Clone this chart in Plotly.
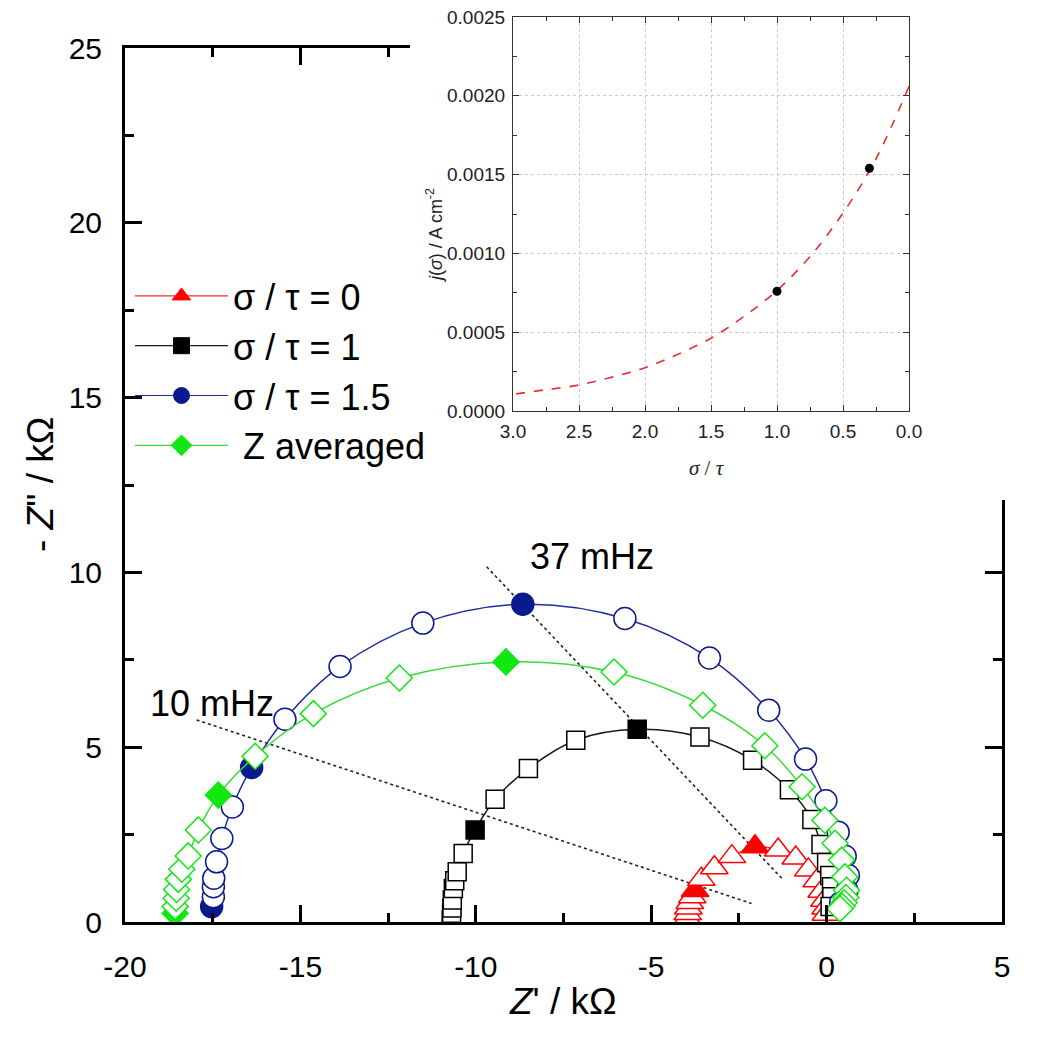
import plotly.graph_objects as go

# ---------------- data ----------------
# sigma/tau = 0 (red triangles)
s0_x = [-3.97, -3.96, -3.94, -3.90, -3.83, -3.75, -3.57, -3.20, -2.70, -2.04, -1.38, -0.88, -0.52, -0.28, -0.14, -0.06, -0.03, -0.02]
s0_y = [0.10, 0.24, 0.40, 0.56, 0.72, 0.90, 1.22, 1.55, 1.87, 2.15, 2.06, 1.83, 1.49, 1.18, 0.88, 0.62, 0.40, 0.22]
s0_filled = [5, 9]

# sigma/tau = 1 (black squares)
s1_x = [-10.70, -10.69, -10.68, -10.67, -10.64, -10.60, -10.53, -10.36, -10.02, -9.45, -8.50, -7.15, -5.40, -3.61, -2.11, -1.06, -0.42, -0.16, 0.00, 0.09, 0.14, 0.15, 0.10]
s1_y = [0.06, 0.25, 0.40, 0.63, 0.96, 1.18, 1.44, 1.96, 2.63, 3.51, 4.39, 5.20, 5.51, 5.29, 4.63, 3.78, 2.93, 2.22, 1.70, 1.33, 1.01, 0.72, 0.44]
s1_filled = [0, 8, 12]

# sigma/tau = 1.5 (blue circles)
s15_x = [-17.53, -17.48, -17.48, -17.47, -17.39, -17.24, -16.94, -16.39, -15.44, -13.87, -11.51, -8.66, -5.75, -3.34, -1.65, -0.60, -0.02, 0.33, 0.53, 0.62, 0.58, 0.40]
s15_y = [0.44, 0.72, 1.01, 1.25, 1.72, 2.39, 3.29, 4.42, 5.80, 7.31, 8.55, 9.09, 8.68, 7.55, 6.06, 4.66, 3.47, 2.57, 1.88, 1.33, 0.90, 0.55]
s15_filled = [0, 7, 11]

# Z averaged (green diamonds)
avg_x = [-18.57, -18.57, -18.54, -18.53, -18.48, -18.38, -18.20, -17.91, -17.34, -16.29, -14.63, -12.18, -9.14, -6.06, -3.53, -1.76, -0.70, -0.05, 0.24, 0.43, 0.52, 0.57, 0.55, 0.50, 0.44, 0.38]
avg_y = [0.25, 0.44, 0.68, 0.93, 1.22, 1.51, 1.89, 2.63, 3.63, 4.74, 5.96, 6.98, 7.44, 7.15, 6.20, 5.04, 3.87, 2.91, 2.25, 1.77, 1.29, 0.91, 0.70, 0.55, 0.45, 0.38]
avg_filled = [0, 8, 12]

# iso-frequency guide lines
guide10_x = [-17.96, -2.14]
guide10_y = [5.78, 0.53]
guide37_x = [-9.69, -1.23]
guide37_y = [10.16, 1.20]

# inset: j(sigma) vs sigma/tau
inset_pts_x = [1.0, 0.3]
inset_pts_y = [0.00076, 0.00154]
inset_fit_x = [0.0, 0.25, 0.5, 0.75, 1.0, 1.25, 1.5, 1.75, 2.0, 2.25, 2.5, 2.75, 3.0]
inset_fit_y = [0.00206, 0.00160, 0.001256, 0.00098, 0.000765, 0.00060, 0.000462, 0.00036, 0.000275, 0.000215, 0.000165, 0.000135, 0.000106]

main_xticks = [-20, -15, -10, -5, 0, 5]
main_xticktext = ['-20', '-15', '-10', '-5', '0', '5']
main_yticks = [0, 5, 10, 15, 20, 25]
inset_xticks = [0.0, 0.5, 1.0, 1.5, 2.0, 2.5, 3.0]
inset_yticks = [0.0, 0.0005, 0.0010, 0.0015, 0.0020, 0.0025]

names = ['σ / τ = 0', 'σ / τ = 1', 'σ / τ = 1.5', '\u00a0Z averaged']

# ---------------- layout geometry (pixels) ----------------
W, H = 1044, 1041
ML, MB = 125, 119
PW, PH = W - ML, H - MB  # plot area 919 x 922


def fx(px):
    return (px - ML) / PW


def fy(py):
    return (PH - py) / PH


FONT = 'Liberation Sans, Arial, sans-serif'

series = [
    (s0_x, s0_y, s0_filled, 'triangle-up', 24, '#FF0000', '#FF2A2A'),
    (s1_x, s1_y, s1_filled, 'square', 18, '#000000', '#1a1a1a'),
    (s15_x, s15_y, s15_filled, 'circle', 22, '#0A1A8E', '#1F2E9E'),
    (avg_x, avg_y, avg_filled, 'diamond', 20, '#11E811', '#3ADB3A'),
]

fig = go.Figure()

# guide lines (below markers)
for gx, gy in [(guide10_x, guide10_y), (guide37_x, guide37_y)]:
    fig.add_trace(go.Scatter(x=gx, y=gy, mode='lines', showlegend=False, hoverinfo='skip',
                             line=dict(color='#222222', width=1.6, dash='dot'),
                             xaxis='x', yaxis='y'))

# data series
for (xs, ys, filled, sym, size, col, lcol), nm in zip(series, names):
    fills = [col if i in filled else 'white' for i in range(len(xs))]
    fig.add_trace(go.Scatter(
        x=xs, y=ys, mode='lines+markers', showlegend=False, name=nm,
        line=dict(color=lcol, width=1.5, shape='spline', smoothing=1.0),
        marker=dict(symbol=sym, size=size, color=fills, line=dict(color=col, width=1.5)),
        xaxis='x', yaxis='y'))

# legend entries
for (xs, ys, filled, sym, size, col, lcol), nm in zip(series, names):
    fig.add_trace(go.Scatter(
        x=[None], y=[None], mode='lines+markers', name=nm, showlegend=True,
        line=dict(color=lcol, width=1.2),
        marker=dict(symbol=sym, size=22, color=col, line=dict(color=col, width=1)),
        xaxis='x', yaxis='y'))

# white cover behind the inset
fig.add_trace(go.Scatter(x=[None], y=[None], xaxis='x2', yaxis='y2', showlegend=False, hoverinfo='skip'))

# inset traces
fig.add_trace(go.Scatter(x=inset_fit_x, y=inset_fit_y, mode='lines', showlegend=False,
                         line=dict(color='#E8302C', width=1.6, dash='dash', shape='spline'),
                         xaxis='x3', yaxis='y3'))
fig.add_trace(go.Scatter(x=inset_pts_x, y=inset_pts_y, mode='markers', showlegend=False,
                         marker=dict(color='black', size=9),
                         xaxis='x3', yaxis='y3'))

main_axis_common = dict(
    showline=True, linewidth=3, linecolor='black', mirror='ticks',
    ticks='inside', ticklen=17, tickwidth=2.5, tickcolor='black',
    showgrid=False, zeroline=False, automargin=False,
    tickfont=dict(family=FONT, size=30, color='black'),
)

inset_axis_common = dict(
    showline=True, linewidth=1.2, linecolor='#333333', mirror='ticks',
    ticks='inside', ticklen=6, tickwidth=1, tickcolor='#333333',
    showgrid=True, gridcolor='#c8c8c8', gridwidth=1, griddash='dot', zeroline=False,
    automargin=False,
    tickfont=dict(family=FONT, size=19, color='#222222'), ticklabelstandoff=3,
)

fig.update_layout(
    width=W, height=H,
    margin=dict(l=ML, r=0, t=0, b=MB, autoexpand=False),
    paper_bgcolor='white', plot_bgcolor='white',
    showlegend=True,
    legend=dict(x=fx(130), y=fy(266), xanchor='left', yanchor='top',
                bgcolor='rgba(0,0,0,0)', borderwidth=0, itemwidth=93,
                font=dict(family=FONT, size=36, color='black')),
    xaxis=dict(domain=[0, fx(1002)], range=[-20, 5], anchor='y',
               tickmode='array', tickvals=main_xticks, ticktext=main_xticktext,
               ticklabelstandoff=16,
               minor=dict(ticks='inside', ticklen=9, tickwidth=2.5, tickcolor='black',
                          tickmode='array', tickvals=[-17.5, -12.5, -7.5, -2.5, 2.5]),
               **main_axis_common),
    yaxis=dict(domain=[0, fy(48)], range=[0, 25], anchor='x',
               tickmode='array', tickvals=main_yticks,
               ticklabelstandoff=14,
               minor=dict(ticks='inside', ticklen=9, tickwidth=2.5, tickcolor='black',
                          tickmode='array', tickvals=[2.5, 7.5, 12.5, 17.5, 22.5]),
               **main_axis_common),
    xaxis2=dict(domain=[fx(410), 1], anchor='y2', visible=False, range=[0, 1]),
    yaxis2=dict(domain=[fy(500), 1], anchor='x2', visible=False, range=[0, 1]),
    xaxis3=dict(domain=[fx(513), fx(909)], anchor='y3', range=[3.0, 0.0],
                tickmode='array', tickvals=inset_xticks, tickformat='.1f',
                minor=dict(ticks='inside', ticklen=4, tickwidth=1, tickcolor='#333333', dtick=0.25, showgrid=False),
                **inset_axis_common),
    yaxis3=dict(domain=[fy(411), fy(17)], anchor='x3', range=[0, 0.0025],
                tickmode='array', tickvals=inset_yticks, tickformat='.4f',
                minor=dict(ticks='inside', ticklen=4, tickwidth=1, tickcolor='#333333', dtick=0.00025, showgrid=False),
                **inset_axis_common),
)

ann = [
    dict(text="<i>Z</i>' / kΩ", x=fx(563), y=fy(1001), font=dict(family=FONT, size=37, color='black')),
    dict(text='- <i>Z</i>" / kΩ', x=fx(40), y=fy(485), textangle=-90, font=dict(family=FONT, size=37, color='black')),
    dict(text='10 mHz', x=fx(212), y=fy(703), font=dict(family=FONT, size=36, color='black')),
    dict(text='37 mHz', x=fx(592), y=fy(556), font=dict(family=FONT, size=36, color='black')),
    dict(text='<i>σ</i> / <i>τ</i>', x=fx(707), y=fy(468), font=dict(family='Liberation Serif, Times New Roman, serif', size=21, color='#222222')),
    dict(text='<i>j</i>(<i>σ</i>) / A cm<sup>-2</sup>', x=fx(434), y=fy(236), textangle=-90,
         font=dict(family=FONT, size=18, color='#222222')),
]
for a in ann:
    fig.add_annotation(xref='paper', yref='paper', showarrow=False, xanchor='center', yanchor='middle', **a)

fig.write_html('out.html')
